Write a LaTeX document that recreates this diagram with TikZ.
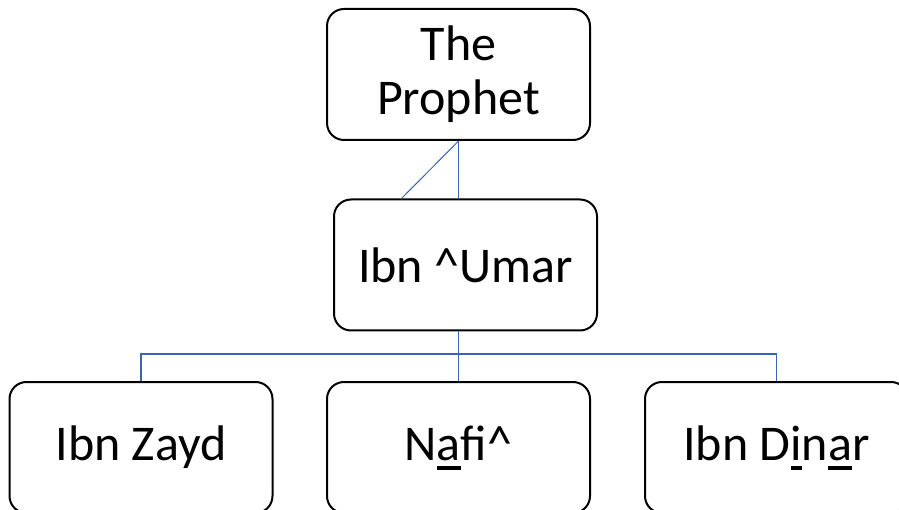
\documentclass[tikz,border=0pt]{standalone}
\usepackage{fontspec}
\setmainfont{Carlito}
\definecolor{conn}{RGB}{60,100,180}
\newcommand{\ulx}[1]{\setbox0\hbox{#1}\rlap{\rule[-9.5pt]{\wd0}{3.5pt}}\box0}
\begin{document}
\begin{tikzpicture}[x=1pt,y=-1pt,
  box/.style={draw=black, line width=2pt, rounded corners=17pt, fill=white,
    minimum width=263pt, minimum height=131pt, inner sep=0pt, align=center,
    font=\fontsize{50}{54}\selectfont},
  link/.style={draw=conn, line width=1.5pt}]
\useasboundingbox (0,0) rectangle (899,510);
\clip (0,0) rectangle (899,510);
\node[box] (top) at (458.5,74.5) {The\\Prophet};
\node[box] (mid) at (465.5,265) {Ibn \textasciicircum Umar};
\node[box] (zayd) at (141,447.5) {Ibn Zayd};
\node[box] (nafi) at (458.5,447.5) {N\ulx{a}fi\textasciicircum};
\node[box] (dinar) at (776.5,447.5) {Ibn D\ulx{i}n\ulx{a}r};
\coordinate (diag) at (401,199);
\coordinate (bus) at (458.5,354);
\draw[link] (top.south) -- (top.south |- mid.north);
\draw[draw=conn, line width=1pt] (top.south) -- (diag);
\draw[link] (top.south |- mid.south) -- (bus);
\draw[link] (bus) -| (zayd.north);
\draw[link] (bus) -| (dinar.north);
\draw[link] (bus) -- (nafi.north);
\end{tikzpicture}
\end{document}
